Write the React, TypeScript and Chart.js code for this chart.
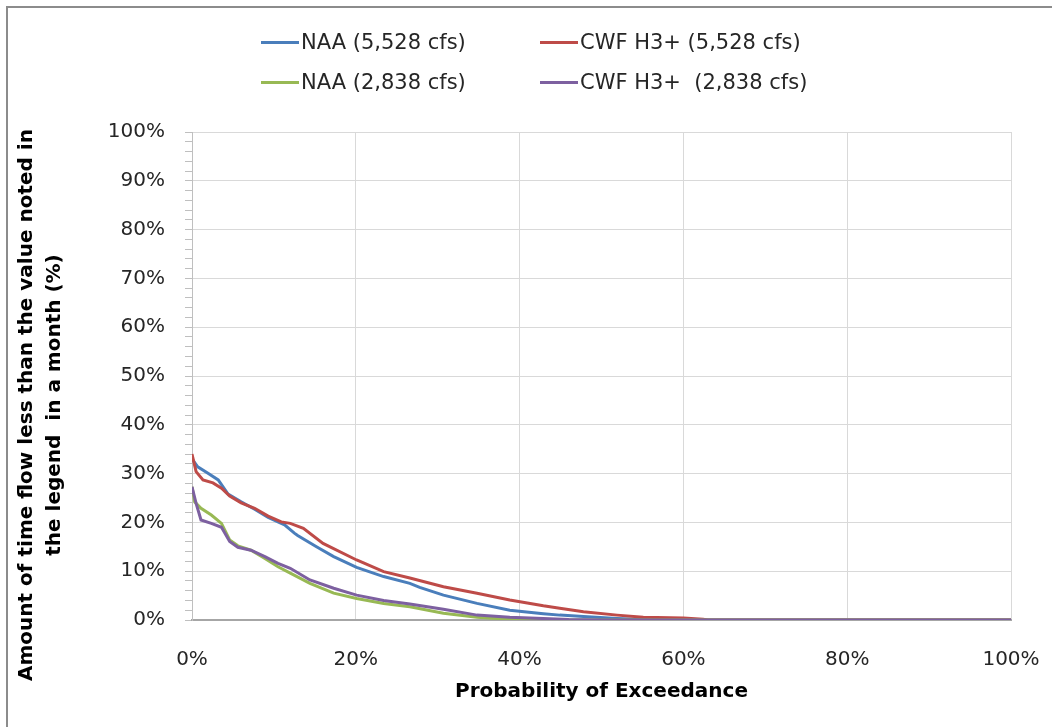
import React, { useEffect, useRef } from "react";
import { Chart, registerables } from "chart.js";

Chart.register(...registerables);

// ---- Data (probability of exceedance %, amount of time %) ----
const naa5528X = [0, 0.7, 2.0, 3.2, 4.4, 6.0, 7.65, 9.3, 11.3, 12.5, 12.9, 15.2, 17.3, 20.1, 23.4, 26.6, 27.8, 30.7, 34.8, 38.8, 42.9, 44.9, 47.8, 51.9, 55, 58, 100];
const naa5528Y = [33, 31.4, 30.0, 28.7, 25.8, 24.2, 22.7, 21.0, 19.5, 17.8, 17.3, 15.0, 13.0, 10.8, 8.9, 7.5, 6.7, 5.1, 3.4, 2.0, 1.3, 1.0, 0.7, 0.3, 0.1, 0, 0];

const cwf5528X = [0, 0.5, 1.34, 2.56, 3.6, 4.6, 6.0, 7.65, 9.3, 10.9, 12.0, 13.6, 16.0, 20.1, 23.4, 26.6, 30.7, 34.8, 38.8, 42.9, 44.9, 47.8, 51.9, 55.1, 60, 62.4, 63, 100];
const cwf5528Y = [34, 30.4, 28.7, 28.1, 27.0, 25.4, 24.0, 22.9, 21.3, 20.1, 19.8, 18.8, 15.7, 12.3, 9.9, 8.6, 6.8, 5.5, 4.1, 2.9, 2.4, 1.7, 1.0, 0.55, 0.4, 0.15, 0, 0];

const naa2838X = [0, 0.33, 1.1, 2.36, 3.6, 4.6, 5.6, 7.2, 8.9, 10.5, 12.0, 14.4, 17.3, 20.1, 23.4, 26.6, 30.7, 34.8, 38.8, 42, 100];
const naa2838Y = [27.3, 24.2, 22.9, 21.5, 19.8, 16.4, 15.2, 14.3, 12.6, 10.9, 9.6, 7.5, 5.5, 4.4, 3.4, 2.7, 1.4, 0.55, 0.15, 0, 0];

const cwf2838X = [0, 0.5, 1.1, 2.36, 3.6, 4.6, 5.6, 7.2, 8.9, 10.5, 12.0, 14.4, 17.3, 20.1, 23.4, 26.6, 30.7, 34.8, 38.8, 42.9, 46, 50, 100];
const cwf2838Y = [27.3, 23.9, 20.5, 19.8, 19.0, 16.1, 14.9, 14.3, 13.0, 11.6, 10.6, 8.2, 6.5, 5.1, 4.0, 3.3, 2.2, 1.0, 0.55, 0.3, 0.1, 0, 0];

const seriesLabels = ["NAA (5,528 cfs)", "CWF H3+ (5,528 cfs)", "NAA (2,838 cfs)", "CWF H3+  (2,838 cfs)"];
const seriesColors = ["#4A7EBB", "#BE4B48", "#98B954", "#7D60A0"];

const xTickValues = [0, 20, 40, 60, 80, 100];
const yTitleLines = ["Amount of time flow less than the value noted in", "the legend  in a month (%)"];
const xTitle = "Probability of Exceedance";

const FONT = "'DejaVu Sans', sans-serif";

const toPoints = (xs: number[], ys: number[]) => xs.map((x, i) => ({ x, y: ys[i] }));

export default function App() {
  const canvasRef = useRef<HTMLCanvasElement | null>(null);

  useEffect(() => {
    const canvas = canvasRef.current;
    if (!canvas) return;
    const allX = [naa5528X, cwf5528X, naa2838X, cwf2838X];
    const allY = [naa5528Y, cwf5528Y, naa2838Y, cwf2838Y];
    const orders = [3, 2, 1, 0];

    const titlePlugin = {
      id: "axisTitles",
      afterDraw(chart: any) {
        const ctx = chart.ctx;
        ctx.save();
        ctx.fillStyle = "#000";
        ctx.font = `bold 20px ${FONT}`;
        ctx.textAlign = "center";
        ctx.textBaseline = "middle";
        ctx.fillText(xTitle, (chart.chartArea.left + chart.chartArea.right) / 2, 692);
        ctx.translate(0, 405);
        ctx.rotate(-Math.PI / 2);
        ctx.fillText(yTitleLines[0], 0, 27);
        ctx.fillText(yTitleLines[1], 0, 55);
        ctx.restore();
      },
    };

    const chart = new Chart(canvas, {
      type: "line",
      data: {
        datasets: seriesLabels.map((label, i) => ({
          label,
          data: toPoints(allX[i], allY[i]),
          borderColor: seriesColors[i],
          backgroundColor: seriesColors[i],
          borderWidth: 3,
          pointRadius: 0,
          tension: 0,
          fill: false,
          order: orders[i],
        })),
      },
      options: {
        responsive: false,
        animation: false,
        layout: { padding: { left: 82, right: 41, top: 132, bottom: 0 } },
        plugins: {
          legend: { display: false },
          tooltip: { enabled: false },
        },
        scales: {
          x: {
            type: "linear",
            min: 0,
            max: 100,
            afterBuildTicks: (s: any) => {
              s.ticks = xTickValues.map((v) => ({ value: v }));
            },
            afterFit: (s: any) => {
              s.height = 107;
              s.paddingLeft = 0;
              s.paddingRight = 0;
            },
            ticks: {
              callback: (v: any) => `${v}%`,
              font: { family: FONT, size: 20 },
              color: "#262626",
              padding: 28,
              maxRotation: 0,
            },
            grid: { color: "#d9d9d9", drawTicks: false, lineWidth: 1 },
            border: { color: "#a6a6a6", width: 2 },
          },
          y: {
            type: "linear",
            min: 0,
            max: 100,
            afterFit: (s: any) => {
              s.width = 110;
              s.paddingTop = 0;
              s.paddingBottom = 0;
            },
            ticks: {
              stepSize: 2,
              autoSkip: false,
              callback: (v: any) => (Number(v) % 10 === 0 ? `${v}%` : ""),
              font: { family: FONT, size: 20 },
              color: "#262626",
              padding: 20,
            },
            grid: {
              color: (c: any) => (c.tick && c.tick.value % 10 === 0 ? "#d9d9d9" : "rgba(0,0,0,0)"),
              tickColor: "#bfbfbf",
              tickLength: 7,
              lineWidth: 1,
            },
            border: { color: "#bfbfbf", width: 1 },
          },
        },
      },
      plugins: [titlePlugin],
    });
    return () => chart.destroy();
  }, []);

  const legendItem = (i: number, left: number, top: number) => (
    <div
      key={i}
      style={{
        position: "absolute",
        left,
        top,
        height: 24,
        display: "flex",
        alignItems: "center",
        whiteSpace: "pre",
        fontFamily: FONT,
        fontSize: 21,
        color: "#262626",
      }}
    >
      <span style={{ display: "inline-block", width: 38, height: 3, background: seriesColors[i], marginRight: 2 }} />
      <span>{seriesLabels[i]}</span>
    </div>
  );

  return (
    <div style={{ position: "fixed", left: 0, top: 0, width: 1052, height: 727, background: "#fff", overflow: "hidden" }}>
      <div
        style={{
          position: "absolute",
          left: 6,
          top: 6,
          width: 1060,
          height: 740,
          borderLeft: "2px solid #8c8c8c",
          borderTop: "2px solid #8c8c8c",
          boxSizing: "border-box",
        }}
      />
      <canvas ref={canvasRef} width={1052} height={727} style={{ position: "absolute", left: 0, top: 0 }} />
      {legendItem(0, 261, 30)}
      {legendItem(1, 540, 30)}
      {legendItem(2, 261, 70)}
      {legendItem(3, 540, 70)}
    </div>
  );
}
